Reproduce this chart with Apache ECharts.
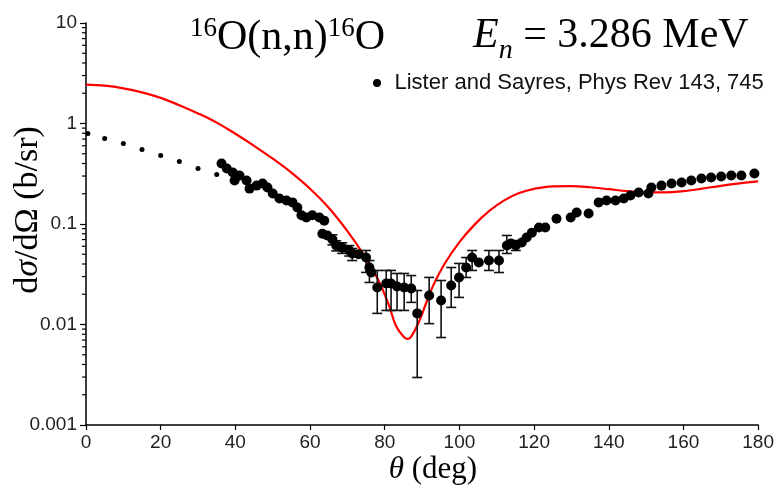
<!DOCTYPE html>
<html><head><meta charset="utf-8">
<script src="https://cdn.jsdelivr.net/npm/echarts@6/dist/echarts.min.js"></script>
<style>html,body{margin:0;padding:0;background:#fff}#c{width:777px;height:485px}</style>
</head><body><div id="c"></div>
<script>
// ---- data ----
const xTicks = [0, 20, 40, 60, 80, 100, 120, 140, 160, 180];
const yTicks = [0.001, 0.01, 0.1, 1, 10];
const yMinorTicks = [0.002,0.003,0.004,0.005,0.006,0.007,0.008,0.009,
  0.02,0.03,0.04,0.05,0.06,0.07,0.08,0.09,
  0.2,0.3,0.4,0.5,0.6,0.7,0.8,0.9,
  2,3,4,5,6,7,8,9];

const theoryTheta = [0,5,10,15,20,25,30,35,40,45,50,55,60,65,70,74,78,81,83,85,86,87,89,91,93,96,100,104,108,112,116,120,125,130,135,140,145,150,155,160,165,170,175,180];
const theorySigma = [2.44,2.38,2.24,2.04,1.80,1.52,1.26,1.02,0.79,0.60,0.447,0.324,0.224,0.145,0.085,0.052,0.029,0.016,0.0097,0.0076,0.0072,0.0075,0.0103,0.0160,0.0245,0.040,0.066,0.098,0.135,0.172,0.203,0.224,0.237,0.238,0.232,0.222,0.212,0.206,0.206,0.212,0.225,0.240,0.254,0.266];

const lowTheta = [0.5, 5, 10, 15, 20, 25, 30, 35];
const lowSigma = [0.795, 0.71, 0.632, 0.551, 0.48, 0.419, 0.357, 0.311];

const expTheta = [36.3,37.7,39.3,39.8,41.1,43.0,43.8,45.7,47.3,48.6,50.0,51.8,53.7,55.3,56.6,57.7,59.0,60.6,62.5,63.3,63.8,64.6,66.0,67.0,68.6,70.5,71.3,73.0,75.0,75.9,76.4,78.0,80.4,81.7,83.3,85.2,87.1,88.7,91.9,95.1,97.8,99.9,101.8,103.4,105.2,107.9,110.6,112.7,113.8,115.1,116.7,118.0,119.4,121.3,123.0,126.0,129.8,131.4,134.6,137.3,139.4,141.8,144.0,145.8,148.0,150.6,151.4,154.1,156.8,159.5,162.1,164.8,167.4,170.1,172.8,175.5,179.0];
const expSigma = [0.40,0.357,0.325,0.271,0.304,0.271,0.225,0.241,0.253,0.231,0.201,0.179,0.171,0.164,0.146,0.122,0.116,0.122,0.116,0.080,0.108,0.077,0.070,0.061,0.058,0.0545,0.0509,0.050,0.0464,0.0369,0.033,0.0233,0.0256,0.0256,0.0239,0.0233,0.0228,0.0129,0.0194,0.0173,0.0244,0.0294,0.0369,0.0464,0.0414,0.0433,0.0433,0.061,0.064,0.061,0.0655,0.0734,0.082,0.0923,0.0923,0.113,0.116,0.13,0.127,0.164,0.171,0.171,0.179,0.192,0.206,0.201,0.231,0.241,0.253,0.259,0.271,0.284,0.29,0.297,0.304,0.304,0.318];

const errTheta = [66.0,67.0,68.6,70.5,71.3,75.0,75.9,78.0,80.4,81.7,83.3,85.2,87.1,88.7,91.9,95.1,97.8,99.9,101.8,103.4,107.9,110.6,112.7,115.1];
const errLow  = [0.062,0.054,0.051,0.048,0.0433,0.0330,0.0262,0.0129,0.0138,0.0138,0.0138,0.0138,0.0166,0.00297,0.0102,0.00742,0.0148,0.0186,0.0294,0.0345,0.0345,0.0329,0.0509,0.0545];
const errHigh = [0.078,0.068,0.065,0.061,0.0570,0.0545,0.0433,0.0345,0.0345,0.0345,0.0322,0.0322,0.0307,0.0218,0.0294,0.0274,0.0369,0.0405,0.0464,0.0545,0.0545,0.0545,0.0769,0.0685];

const expName = 'Lister and Sayres, Phys Rev 143, 745';

// ---- build ----
const zip2 = (a, b) => a.map((v, i) => [v, b[i]]);
const chart = echarts.init(document.getElementById('c'), null, {renderer: 'canvas'});
const serif = 'Liberation Serif';
const sans = 'Liberation Sans';

const option = {
  animation: false,
  backgroundColor: '#fff',
  grid: {left: 86, right: 17, top: 23, bottom: 60, containLabel: false},
  legend: {
    data: [expName], left: 368, top: 67, icon: 'circle', itemWidth: 25, itemHeight: 8,
    textStyle: {fontFamily: sans, fontSize: 22, color: '#111'}
  },
  xAxis: {
    type: 'value', min: 0, max: 180, interval: 20,
    axisLine: {show: true, lineStyle: {color: '#000', width: 1.5}},
    axisTick: {show: true, length: 5, lineStyle: {color: '#000', width: 1.2}},
    splitLine: {show: false},
    axisLabel: {fontFamily: sans, fontSize: 19, color: '#222', margin: 8,
      formatter: v => xTicks.includes(v) ? String(v) : ''}
  },
  yAxis: {
    type: 'log', logBase: 10, min: 0.001, max: 10,
    axisLine: {show: true, lineStyle: {color: '#000', width: 1.5}},
    axisTick: {show: true, length: 6, lineStyle: {color: '#000', width: 1.2}},
    splitLine: {show: false},
    axisLabel: {fontFamily: sans, fontSize: 19, color: '#222', margin: 9,
      formatter: v => {
        const t = yTicks.find(k => Math.abs(Math.log10(k) - Math.log10(v)) < 1e-6);
        return t === undefined ? '' : String(t);
      }}
  },
  graphic: [
    {type: 'text', left: 190, top: 15, style: {
      text: '{s|16}{m|O(n,n)}{s|16}{m|O}',
      rich: {
        m: {fontFamily: serif, fontSize: 42, color: '#000', lineHeight: 46},
        s: {fontFamily: serif, fontSize: 27, color: '#000', lineHeight: 27, verticalAlign: 'top'}
      }}},
    {type: 'text', left: 473, top: 15, style: {
      text: '{e|E}{n|n}{m| = 3.286 MeV}',
      rich: {
        e: {fontFamily: serif, fontStyle: 'italic', fontSize: 42, color: '#000', lineHeight: 46},
        n: {fontFamily: serif, fontStyle: 'italic', fontSize: 28, color: '#000', lineHeight: 28, verticalAlign: 'bottom', padding: [0, 0, -6, 0]},
        m: {fontFamily: serif, fontSize: 42, color: '#000', lineHeight: 46}
      }}},
    {type: 'text', x: 28, y: 210, rotation: Math.PI / 2, style: {
      text: '{r|d}{i|σ}{r|/dΩ (b/sr)}',
      rich: {
        r: {fontFamily: serif, fontSize: 34, color: '#000'},
        i: {fontFamily: serif, fontStyle: 'italic', fontSize: 34, color: '#000'}
      },
      textAlign: 'center', textVerticalAlign: 'middle'}},
    {type: 'text', x: 433, y: 470, style: {
      text: '{i|θ}{r| (deg)}',
      rich: {
        r: {fontFamily: serif, fontSize: 31, color: '#000'},
        i: {fontFamily: serif, fontStyle: 'italic', fontSize: 31, color: '#000'}
      },
      textAlign: 'center', textVerticalAlign: 'middle'}}
  ],
  series: [
    {
      name: 'minorTicks', type: 'custom', clip: false, silent: true,
      data: yMinorTicks.map(v => [0, v]),
      renderItem: (params, api) => {
        const p = api.coord([0, api.value(1)]);
        return {type: 'line', shape: {x1: p[0] - 4, y1: p[1], x2: p[0], y2: p[1]},
          style: {stroke: '#000', lineWidth: 1.2}};
      }
    },
    {
      name: 'theory', type: 'line', data: zip2(theoryTheta, theorySigma),
      showSymbol: false, smooth: 0.4, lineStyle: {color: '#ff0000', width: 2.2}, z: 3
    },
    {
      name: 'low', type: 'scatter', data: zip2(lowTheta, lowSigma),
      symbolSize: 5, itemStyle: {color: '#000', opacity: 1}, z: 4
    },
    {
      name: 'errors', type: 'custom', data: errTheta.map((t, i) => [t, errLow[i], errHigh[i]]),
      renderItem: (params, api) => {
        const lo = api.coord([api.value(0), api.value(1)]);
        const hi = api.coord([api.value(0), api.value(2)]);
        const w = 5;
        const st = {stroke: '#111', lineWidth: 1.6};
        return {type: 'group', children: [
          {type: 'line', shape: {x1: lo[0], y1: lo[1], x2: hi[0], y2: hi[1]}, style: st},
          {type: 'line', shape: {x1: lo[0] - w, y1: lo[1], x2: lo[0] + w, y2: lo[1]}, style: st},
          {type: 'line', shape: {x1: hi[0] - w, y1: hi[1], x2: hi[0] + w, y2: hi[1]}, style: st}
        ]};
      }, z: 4
    },
    {
      name: expName, type: 'scatter', data: zip2(expTheta, expSigma),
      symbolSize: 10, itemStyle: {color: '#000', opacity: 1}, z: 5
    }
  ]
};
chart.setOption(option);
</script>
</body></html>
